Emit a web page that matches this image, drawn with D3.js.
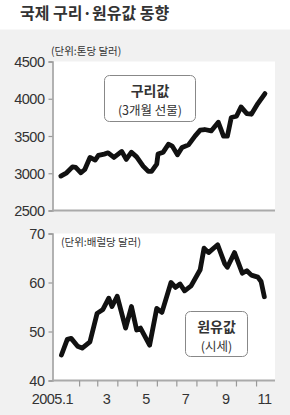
<!DOCTYPE html>
<html>
<head>
<meta charset="utf-8">
<script src="https://cdn.jsdelivr.net/npm/d3@7"></script>
<style>
  html, body { margin: 0; padding: 0; background: #fff; }
  svg { display: block; }
  .num { font-family: "Liberation Sans", Arial, sans-serif; font-size: 14.5px; fill: #333; letter-spacing: -0.5px; }
  .kr { font-family: "Noto Sans CJK KR", sans-serif; fill: #333; }
</style>
</head>
<body>
<div id="chart"></div>
<script>
// 구리값 (3개월 선물), 톤당 달러
var copperDates = ['2005-01-03','2005-01-12','2005-01-21','2005-01-26','2005-02-03','2005-02-09','2005-02-17','2005-02-25',
  '2005-03-02','2005-03-11','2005-03-17','2005-03-26','2005-04-07','2005-04-14','2005-04-22','2005-04-30',
  '2005-05-10','2005-05-18','2005-05-23','2005-05-31','2005-06-02','2005-06-10','2005-06-18','2005-06-24',
  '2005-07-02','2005-07-09','2005-07-19','2005-07-29','2005-08-06','2005-08-13','2005-08-23','2005-09-03',
  '2005-09-11','2005-09-17','2005-09-23','2005-10-01','2005-10-08','2005-10-17','2005-10-24','2005-11-03','2005-11-14'];
var copperValues = [2962, 3006, 3086, 3078, 3006, 3051, 3212, 3176,
  3239, 3257, 3274, 3212, 3293, 3186, 3283, 3220,
  3096, 3025, 3025, 3123, 3257, 3283, 3390, 3364,
  3247, 3346, 3381, 3498, 3578, 3587, 3568, 3685,
  3498, 3498, 3748, 3765, 3890, 3801, 3792, 3935, 4069];

// 원유값 (시세), 배럴당 달러
var oilDates = ['2005-01-04','2005-01-13','2005-01-19','2005-01-29','2005-02-05','2005-02-17','2005-02-28','2005-03-09',
  '2005-03-18','2005-03-23','2005-03-31','2005-04-13','2005-04-22','2005-04-30','2005-05-06','2005-05-20',
  '2005-05-31','2005-06-08','2005-06-22','2005-06-29','2005-07-06','2005-07-13','2005-07-23','2005-08-06',
  '2005-08-12','2005-08-19','2005-09-02','2005-09-13','2005-09-17','2005-09-28','2005-10-10','2005-10-17',
  '2005-10-24','2005-11-03','2005-11-08','2005-11-13'];
var oilValues = [45.2, 48.4, 48.6, 47.0, 46.6, 47.9, 53.7, 54.5,
  56.8, 55.1, 57.2, 50.7, 55.1, 50.3, 50.7, 47.2,
  54.7, 53.9, 60.0, 59.0, 59.7, 58.3, 59.3, 62.6,
  67.0, 66.1, 67.7, 63.8, 63.1, 66.1, 61.9, 62.4,
  61.5, 61.1, 60.2, 57.1];

var copperTicks = [2500, 3000, 3500, 4000, 4500];
var oilTicks = [40, 50, 60, 70];
var monthTicks = ['2005-02-01','2005-03-01','2005-04-01','2005-05-01','2005-06-01','2005-07-01','2005-08-01','2005-09-01','2005-10-01','2005-11-01'];
var monthLabels = [['2005-01-16','2005.1'], ['2005-03-16','3'], ['2005-05-16','5'], ['2005-07-16','7'], ['2005-09-16','9'], ['2005-11-15','11']];

var W = 290, H = 415;
var parse = d3.timeParse('%Y-%m-%d');

var x = d3.scaleTime().domain([parse('2005-01-01'), parse('2005-12-01')]).range([59.5, 276]);
var plotLeft = 52.5, plotRight = 275;

var svg = d3.select('#chart').append('svg').attr('width', W).attr('height', H);

// title + gray panel
svg.append('text').attr('class', 'kr').attr('x', 20).attr('y', 19)
  .attr('font-size', 16).attr('font-weight', 'bold').attr('fill', '#3a3a3a').text('국제 구리·원유값 동향');
svg.append('rect').attr('x', 0).attr('y', 29.5).attr('width', W).attr('height', H - 29.5).attr('fill', '#f1f1f1');

function panel(opts) {
  var y = d3.scaleLinear().domain(opts.domain).range(opts.range);
  var top = opts.range[1], bottom = opts.range[0];
  var g = svg.append('g');

  g.append('rect').attr('x', plotLeft).attr('y', top).attr('width', plotRight - plotLeft).attr('height', bottom - top).attr('fill', '#fff');

  // left axis
  var ax = g.append('g').attr('transform', 'translate(' + plotLeft + ',0)')
    .call(d3.axisLeft(y).tickValues(opts.ticks).tickSize(4).tickPadding(4).tickFormat(d3.format('d')));
  ax.select('.domain').attr('stroke', '#999').attr('stroke-width', 1.5);
  ax.selectAll('.tick line').attr('stroke', '#999').attr('stroke-width', 1.2);
  ax.selectAll('.tick text').attr('class', 'num').attr('font-size', null).attr('font-family', null).attr('fill', null).attr('dy', '0.36em');

  // bottom line
  g.append('line').attr('x1', plotLeft).attr('x2', plotRight).attr('y1', bottom).attr('y2', bottom)
    .attr('stroke', '#aaa').attr('stroke-width', 1.8);

  // series
  var pts = opts.dates.map(function (d, i) { return { date: parse(d), v: opts.values[i] }; });
  var line = d3.line().x(function (d) { return x(d.date); }).y(function (d) { return y(d.v); });
  g.append('path').datum(pts).attr('d', line).attr('fill', 'none').attr('stroke', '#111')
    .attr('stroke-width', 4.8).attr('stroke-linejoin', 'round').attr('stroke-linecap', 'round');

  // legend box
  var b = opts.box;
  g.append('rect').attr('x', b.x).attr('y', b.y).attr('width', b.w).attr('height', b.h).attr('rx', 5)
    .attr('fill', '#fff').attr('stroke', '#888').attr('stroke-width', 1);
  g.append('text').attr('class', 'kr').attr('x', b.x + b.w / 2).attr('y', b.y + b.l1).attr('text-anchor', 'middle')
    .attr('font-size', 14).attr('font-weight', 'bold').attr('fill', '#222').text(opts.name);
  g.append('text').attr('class', 'kr').attr('x', b.x + b.w / 2).attr('y', b.y + b.l2).attr('text-anchor', 'middle')
    .attr('font-size', 12.5).text(opts.sub);

  g.append('text').attr('class', 'kr').attr('x', opts.unit[0]).attr('y', opts.unit[1]).attr('font-size', 10.5)
    .attr('fill', '#444').text(opts.unitText);
  return { y: y, bottom: bottom };
}

panel({
  domain: [2500, 4500], range: [210.5, 61.5], ticks: copperTicks,
  dates: copperDates, values: copperValues,
  box: { x: 104.5, y: 75.5, w: 91, h: 46, l1: 20, l2: 39 },
  name: '구리값', sub: '(3개월 선물)',
  unit: [51, 55], unitText: '(단위:톤당 달러)'
});

var lower = panel({
  domain: [40, 70], range: [380.5, 233.5], ticks: oilTicks,
  dates: oilDates, values: oilValues,
  box: { x: 185.5, y: 311.5, w: 62, h: 45, l1: 20, l2: 39 },
  name: '원유값', sub: '(시세)',
  unit: [61, 246], unitText: '(단위:배럴당 달러)'
});

// month ticks & labels
svg.append('g').selectAll('line').data(monthTicks).enter().append('line')
  .attr('x1', function (d) { return x(parse(d)); }).attr('x2', function (d) { return x(parse(d)); })
  .attr('y1', lower.bottom).attr('y2', lower.bottom + 6).attr('stroke', '#999').attr('stroke-width', 1.2);
svg.append('g').selectAll('text').data(monthLabels).enter().append('text')
  .attr('class', 'num')
  .attr('x', function (d, i) { return i === 0 ? 73 : x(parse(d[0])) - 1; })
  .attr('y', 404)
  .attr('text-anchor', function (d, i) { return i === 0 ? 'end' : 'middle'; })
  .text(function (d) { return d[1]; });
</script>
</body>
</html>
